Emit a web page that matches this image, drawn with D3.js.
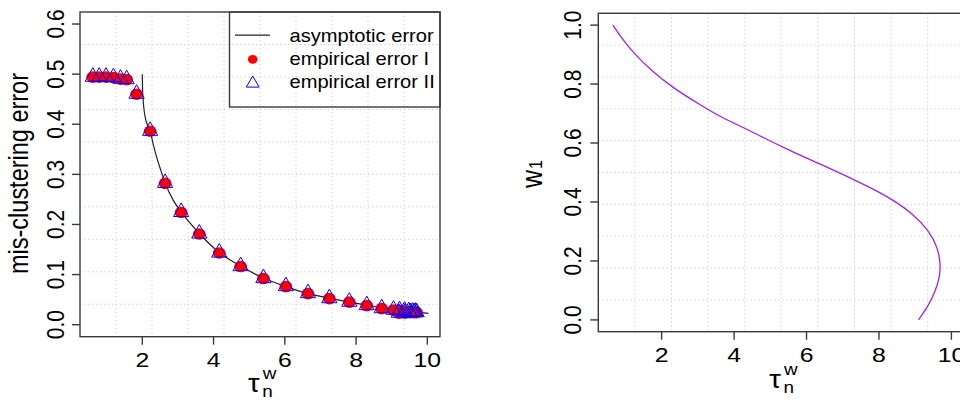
<!DOCTYPE html>
<html>
<head>
<meta charset="utf-8">
<script src="https://cdn.jsdelivr.net/npm/d3@7"></script>
<style>
  html, body { margin: 0; padding: 0; background: #fff; }
  svg { display: block; }
  text { font-family: "Liberation Sans", Arial, Helvetica, sans-serif; fill: #000; }
</style>
</head>
<body>
<svg id="chart" width="960" height="400"></svg>
<script>
// ---------- data ----------
const xTicks = [2, 4, 6, 8, 10];
const yTicksLeft = [0.0, 0.1, 0.2, 0.3, 0.4, 0.5, 0.6];
const yTicksRight = [0.0, 0.2, 0.4, 0.6, 0.8, 1.0];

// empirical points (tau_n^w, error)
const tauEmp = [0.61, 0.79, 0.98, 1.19, 1.39, 1.56, 1.84, 2.22, 2.64, 3.09, 3.60, 4.16, 4.76, 5.40, 6.03, 6.65, 7.25, 7.81, 8.30, 8.72, 9.05, 9.22, 9.36, 9.48, 9.58, 9.66, 9.70, 9.63, 9.52, 9.37, 9.20];
const errI   = [0.494, 0.494, 0.494, 0.493, 0.490, 0.489, 0.460, 0.386, 0.282, 0.224, 0.181, 0.143, 0.116, 0.092, 0.076, 0.062, 0.052, 0.045, 0.038, 0.032, 0.029, 0.028, 0.027, 0.026, 0.025, 0.025, 0.024, 0.024, 0.024, 0.023, 0.023];
const errII  = [0.495, 0.495, 0.495, 0.494, 0.491, 0.490, 0.461, 0.387, 0.283, 0.225, 0.182, 0.144, 0.117, 0.093, 0.077, 0.063, 0.053, 0.046, 0.039, 0.033, 0.030, 0.029, 0.028, 0.027, 0.026, 0.026, 0.025, 0.025, 0.025, 0.024, 0.024];

// asymptotic error curve
const tauAsym = [2.00, 2.005, 2.02, 2.05, 2.10, 2.16, 2.22, 2.30, 2.40, 2.52, 2.64, 2.87, 3.09, 3.60, 4.16, 4.76, 5.40, 6.03, 6.65, 7.25, 7.81, 8.30, 8.72, 9.20, 9.70, 10.03];
const errAsym = [0.500, 0.475, 0.452, 0.428, 0.408, 0.396, 0.386, 0.362, 0.335, 0.308, 0.283, 0.248, 0.225, 0.182, 0.144, 0.117, 0.093, 0.076, 0.062, 0.053, 0.045, 0.039, 0.034, 0.029, 0.025, 0.0225];

// w1 vs tau curve (right panel)
const tauW = [0.655, 0.93, 1.235, 1.70, 2.30, 3.08, 3.63, 4.32, 5.33, 6.35, 7.36, 8.00, 8.45, 8.93, 9.38, 9.62, 9.71, 9.66, 9.52, 9.34, 9.09];
const w1   = [1.000, 0.950, 0.904, 0.847, 0.788, 0.728, 0.688, 0.649, 0.586, 0.530, 0.473, 0.434, 0.402, 0.360, 0.303, 0.247, 0.185, 0.134, 0.088, 0.043, 0.000];

const legendLabels = ["asymptotic error", "empirical error I", "empirical error II"];

// ---------- layout ----------
const svg = d3.select("#chart");
const SX = 1.18;              // horizontal text stretch seen in the reference
const axisCol = "#3a3a3a";
const gridCol = "#d3d3d3";

function panel(cfg) {
  const g = svg.append("g");
  const x = d3.scaleLinear().domain(cfg.xDom).range([cfg.left, cfg.right]);
  const y = d3.scaleLinear().domain(cfg.yDom).range([cfg.bottom, cfg.top]);

  // grid (10 equal divisions of the plotting region)
  const gx = d3.range(1, 10).map(i => cfg.xDom[0] + i * (cfg.xDom[1] - cfg.xDom[0]) / 10);
  const gy = d3.range(1, 10).map(i => cfg.yDom[0] + i * (cfg.yDom[1] - cfg.yDom[0]) / 10);
  g.selectAll(".gx").data(gx).enter().append("line")
    .attr("x1", d => x(d)).attr("x2", d => x(d))
    .attr("y1", cfg.top).attr("y2", cfg.bottom)
    .attr("stroke", gridCol).attr("stroke-width", 1).attr("stroke-dasharray", "1.5,2.5");
  g.selectAll(".gy").data(gy).enter().append("line")
    .attr("y1", d => y(d)).attr("y2", d => y(d))
    .attr("x1", cfg.left).attr("x2", cfg.right)
    .attr("stroke", gridCol).attr("stroke-width", 1).attr("stroke-dasharray", "1.5,2.5");

  // box
  g.append("rect").attr("x", cfg.left).attr("y", cfg.top)
    .attr("width", cfg.right - cfg.left).attr("height", cfg.bottom - cfg.top)
    .attr("fill", "none").attr("stroke", axisCol).attr("stroke-width", 1.4);

  // x axis ticks
  g.selectAll(".xt").data(xTicks).enter().append("line")
    .attr("x1", d => x(d)).attr("x2", d => x(d))
    .attr("y1", cfg.bottom).attr("y2", cfg.bottom + 8)
    .attr("stroke", axisCol).attr("stroke-width", 1.4);
  g.selectAll(".xl").data(xTicks).enter().append("text")
    .attr("text-anchor", "middle").attr("font-size", 21)
    .attr("transform", d => `translate(${x(d)},${cfg.xLabBase}) scale(${SX},1)`)
    .text(d => d);

  // y axis ticks
  g.selectAll(".yt").data(cfg.yTicks).enter().append("line")
    .attr("y1", d => y(d)).attr("y2", d => y(d))
    .attr("x1", cfg.left).attr("x2", cfg.left - 8)
    .attr("stroke", axisCol).attr("stroke-width", 1.4);
  g.selectAll(".yl").data(cfg.yTicks).enter().append("text")
    .attr("text-anchor", "middle").attr("font-size", 21)
    .attr("transform", d => `translate(${cfg.yLabBase},${y(d)}) scale(${SX},1) rotate(-90)`)
    .text(d => d.toFixed(1));

  // x label tau_n^w
  const cx = (cfg.left + cfg.right) / 2;
  const xl = g.append("g").attr("transform", `translate(${cx - 12},${cfg.tauBase}) scale(${SX},1)`);
  xl.append("text").attr("font-size", 25).attr("x", 0).attr("y", 0).text("τ");
  xl.append("text").attr("font-size", 16).attr("x", 12.5).attr("y", -13).text("w");
  xl.append("text").attr("font-size", 16).attr("x", 12).attr("y", 5).text("n");

  return { g, x, y };
}

// ---------- left panel ----------
const L = panel({
  left: 80, right: 440, top: 12, bottom: 336.7,
  xDom: [0.251, 10.356], yDom: [-0.024, 0.624],
  yTicks: yTicksLeft, xLabBase: 366.5, yLabBase: 63.5, tauBase: 392
});

// y label
svg.append("text").attr("text-anchor", "middle").attr("font-size", 23.5)
  .attr("transform", `translate(28,173.5) scale(${SX},1) rotate(-90)`)
  .text("mis-clustering error");

// asymptotic curve
const asymData = tauAsym.map((t, i) => [t, errAsym[i]]);
L.g.append("path").datum(asymData)
  .attr("fill", "none").attr("stroke", "#222").attr("stroke-width", 1.2)
  .attr("d", d3.line().x(d => L.x(d[0])).y(d => L.y(d[1])).curve(d3.curveMonotoneX));

// points
const triPath = (cx, cy, hw, up, down) => `M${cx},${cy - up}L${cx + hw},${cy + down}L${cx - hw},${cy + down}Z`;
L.g.selectAll(".ptI").data(tauEmp.map((t, i) => [t, errI[i]])).enter().append("ellipse")
  .attr("cx", d => L.x(d[0])).attr("cy", d => L.y(d[1]))
  .attr("rx", 6.4).attr("ry", 5.8).attr("fill", "#ff0000");
L.g.selectAll(".ptII").data(tauEmp.map((t, i) => [t, errII[i]])).enter().append("path")
  .attr("d", d => triPath(L.x(d[0]), L.y(d[1]), 7.6, 9.0, 4.6))
  .attr("fill", "none").attr("stroke", "#0000ff").attr("stroke-width", 1);

// legend
const lg = L.g.append("g");
lg.append("rect").attr("x", 229.5).attr("y", 12).attr("width", 440 - 229.5).attr("height", 107 - 12)
  .attr("fill", "none").attr("stroke", axisCol).attr("stroke-width", 1.4);
const rowY = [35.2, 58.3, 81.4];
lg.append("line").attr("x1", 235).attr("x2", 270).attr("y1", rowY[0]).attr("y2", rowY[0])
  .attr("stroke", "#222").attr("stroke-width", 1.2);
lg.append("ellipse").attr("cx", 252.7).attr("cy", rowY[1] + 1).attr("rx", 4.8).attr("ry", 4.4).attr("fill", "#ff0000");
lg.append("path").attr("d", triPath(252.7, rowY[2] + 2, 6.4, 7.4, 3.7))
  .attr("fill", "none").attr("stroke", "#0000ff").attr("stroke-width", 1);
lg.selectAll(".lt").data(legendLabels).enter().append("text")
  .attr("font-size", 17.5)
  .attr("transform", (d, i) => `translate(289.5,${rowY[i] + 6.4}) scale(1.15,1)`)
  .text(d => d);

// ---------- right panel ----------
const R = panel({
  left: 598.3, right: 964.3, top: 13.3, bottom: 331.7,
  xDom: [0.251, 10.356], yDom: [-0.04, 1.04],
  yTicks: yTicksRight, xLabBase: 361.5, yLabBase: 580.5, tauBase: 388
});

// y label w_1
const wl = svg.append("g").attr("transform", `translate(541.5,176) scale(${SX},1) rotate(-90)`);
wl.append("text").attr("font-size", 25).attr("text-anchor", "middle").attr("x", -3).attr("y", 0).text("w");
wl.append("text").attr("font-size", 16).attr("x", 7).attr("y", 0).text("1");

R.g.append("path").datum(tauW.map((t, i) => [t, w1[i]]))
  .attr("fill", "none").attr("stroke", "#a020f0").attr("stroke-width", 1.3)
  .attr("d", d3.line().x(d => R.x(d[0])).y(d => R.y(d[1])).curve(d3.curveBasis));
</script>
</body>
</html>
